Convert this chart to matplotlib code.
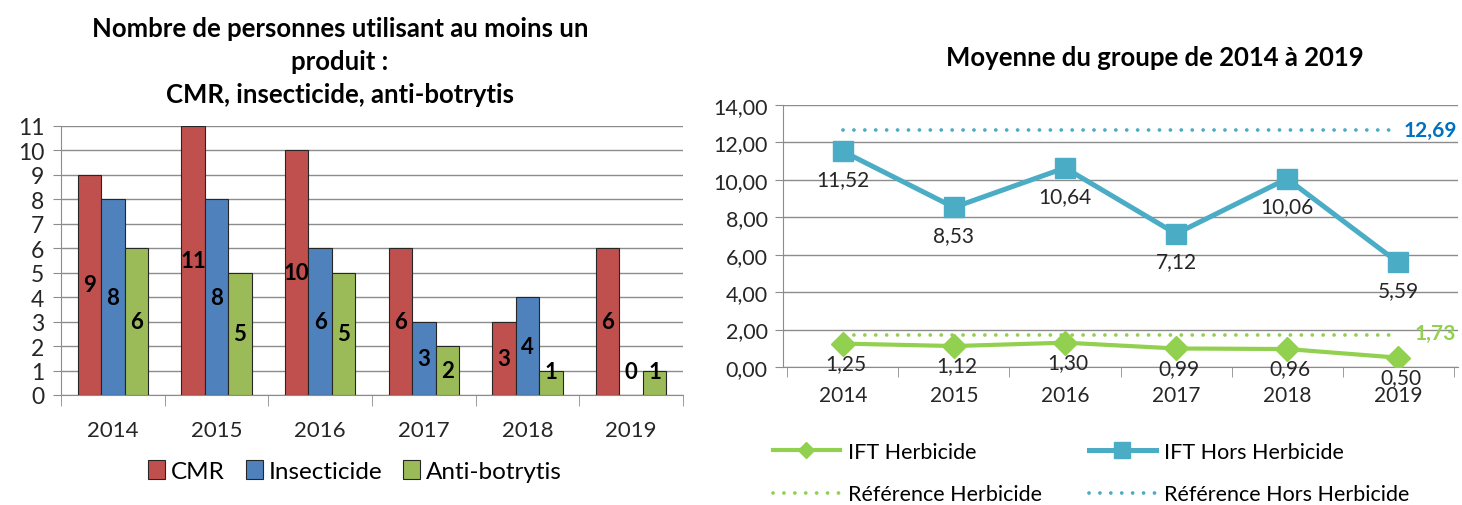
import numpy as np
import matplotlib
matplotlib.use("Agg")
import matplotlib.pyplot as plt
from matplotlib.patches import Patch
from matplotlib.lines import Line2D

plt.rcParams['font.family'] = ['Lato', 'DejaVu Sans']

# data
years = ['2014', '2015', '2016', '2017', '2018', '2019']
cmr = [9, 11, 10, 6, 3, 6]
insecticide = [8, 8, 6, 3, 4, 0]
anti_botrytis = [6, 5, 5, 2, 1, 1]

ift_herbicide = [1.25, 1.12, 1.30, 0.99, 0.96, 0.50]
ift_hors_herbicide = [11.52, 8.53, 10.64, 7.12, 10.06, 5.59]
ref_herbicide = 1.73
ref_hors_herbicide = 12.69

W, H = 1462, 506
fig = plt.figure(figsize=(W / 100, H / 100), dpi=100)


def px_axes(x0, y0, x1, y1):
    # pixel box (top-left origin) -> figure fraction
    return fig.add_axes([x0 / W, 1 - y1 / H, (x1 - x0) / W, (y1 - y0) / H])


def fr(v):
    return f"{v:.2f}".replace('.', ',')


grid_col = '#8c8c8c'
txt_col = '#262626'
dots = (0, (0.01, 2.9))

# ---------------- left: bar chart ----------------
ax1 = px_axes(61, 127, 683, 396)
x = np.arange(len(years))
bw = 0.226
series = [(cmr, '#C0504D', 'CMR'), (insecticide, '#4F81BD', 'Insecticide'),
          (anti_botrytis, '#9BBB59', 'Anti-botrytis')]
for i, (vals, col, lab) in enumerate(series):
    pos = x + (i - 1) * bw
    ax1.bar(pos, vals, bw, color=col, edgecolor=txt_col, linewidth=0.8, zorder=3)
    for p, v in zip(pos, vals):
        ax1.text(p, max(v / 2, 0.95), str(v), ha='center', va='center',
                 fontsize=16, fontweight='bold', color='black', zorder=4)

ax1.set_xlim(-0.5, len(years) - 0.5)
ax1.set_ylim(0, 11)
ax1.set_yticks(range(0, 12))
ax1.yaxis.grid(True, color=grid_col, linewidth=1, zorder=0)
ax1.set_xticks(x)
ax1.set_xticklabels(years)
ax1.set_xticks(np.arange(-0.5, len(years)), minor=True)
ax1.tick_params(axis='x', which='major', length=0, labelsize=16, pad=18, labelcolor=txt_col)
ax1.tick_params(axis='x', which='minor', length=8, color=grid_col)
ax1.tick_params(axis='y', length=6, color=grid_col, labelsize=16.5, pad=6, labelcolor=txt_col)
for s in ['top', 'right']:
    ax1.spines[s].set_visible(False)
for s in ['left', 'bottom']:
    ax1.spines[s].set_color(grid_col)
fig.text(340 / W, 1 - 62 / H,
         "Nombre de personnes utilisant au moins un\nproduit :\nCMR, insecticide, anti-botrytis",
         ha='center', va='center', fontsize=18.5, fontweight='bold', linespacing=1.45)

handles1 = [Patch(facecolor=c, edgecolor=txt_col, linewidth=0.8, label=l) for _, c, l in series]
fig.legend(handles=handles1, loc='center', bbox_to_anchor=(355 / W, 1 - 472 / H), ncol=3,
           frameon=False, fontsize=17.5, handlelength=0.7, handleheight=0.85,
           handletextpad=0.25, columnspacing=0.85)

# ---------------- right: line chart ----------------
ax2 = px_axes(783, 106, 1458, 368)
blue = '#4BACC6'
green = '#92D050'
xr = np.arange(len(years))
ax2.plot(xr, ift_hors_herbicide, color=blue, lw=3.6, marker='s', markersize=14, zorder=3)
ax2.plot(xr, ift_herbicide, color=green, lw=3, marker='D', markersize=12, zorder=3)
ax2.plot(xr, [ref_hors_herbicide] * len(years), color=blue, lw=2.7,
         linestyle=dots, dash_capstyle='round', zorder=2)
ax2.plot(xr, [ref_herbicide] * len(years), color=green, lw=2.7,
         linestyle=dots, dash_capstyle='round', zorder=2)

for xi, v in zip(xr, ift_hors_herbicide):
    ax2.annotate(fr(v), (xi, v), xytext=(0, -20), textcoords='offset points',
                 ha='center', va='center', fontsize=15, color=txt_col)
for xi, v in zip(xr, ift_herbicide):
    ax2.annotate(fr(v), (xi, v), xytext=(2, -14), textcoords='offset points',
                 ha='center', va='center', fontsize=15, color=txt_col)

ax2.annotate(fr(ref_hors_herbicide), (xr[-1], ref_hors_herbicide), xytext=(4, 0),
             textcoords='offset points', ha='left', va='center', fontsize=15,
             fontweight='bold', color='#0070C0', annotation_clip=False)
ax2.annotate(fr(ref_herbicide), (xr[-1], ref_herbicide), xytext=(12, 1),
             textcoords='offset points', ha='left', va='center', fontsize=15,
             fontweight='bold', color=green, annotation_clip=False)

ax2.set_xlim(-0.54, len(years) - 0.46)
ax2.set_ylim(0, 14)
ax2.set_yticks(np.arange(0, 15, 2))
ax2.set_yticklabels([fr(v) for v in np.arange(0, 15, 2)])
ax2.yaxis.grid(True, color=grid_col, linewidth=1, zorder=0)
ax2.set_xticks(xr)
ax2.set_xticklabels(years)
ax2.set_xticks(np.arange(-0.5, len(years)), minor=True)
ax2.tick_params(axis='x', which='major', length=0, labelsize=15, pad=13, labelcolor=txt_col)
ax2.tick_params(axis='x', which='minor', length=7, color=grid_col)
ax2.tick_params(axis='y', length=6, color=grid_col, labelsize=15.5, pad=5, labelcolor=txt_col)
for s in ['top', 'right']:
    ax2.spines[s].set_visible(False)
for s in ['left', 'bottom']:
    ax2.spines[s].set_color(grid_col)
fig.text(1155 / W, 1 - 58 / H, "Moyenne du groupe de 2014 à 2019",
         ha='center', va='center', fontsize=18.5, fontweight='bold')

handles2 = [
    Line2D([], [], color=green, lw=3, marker='D', markersize=8, label='IFT Herbicide'),
    Line2D([], [], color=green, lw=2.7, linestyle=dots, dash_capstyle='round',
           label='Référence Herbicide'),
    Line2D([], [], color=blue, lw=3.6, marker='s', markersize=11, label='IFT Hors Herbicide'),
    Line2D([], [], color=blue, lw=2.7, linestyle=dots, dash_capstyle='round',
           label='Référence Hors Herbicide'),
]
fig.legend(handles=handles2, loc='center', bbox_to_anchor=(1091 / W, 1 - 474 / H), ncol=2,
           frameon=False, fontsize=15.5, handlelength=3.1, handletextpad=0.37,
           columnspacing=2.2, labelspacing=1.05)

fig.savefig('out.png', dpi=100)
